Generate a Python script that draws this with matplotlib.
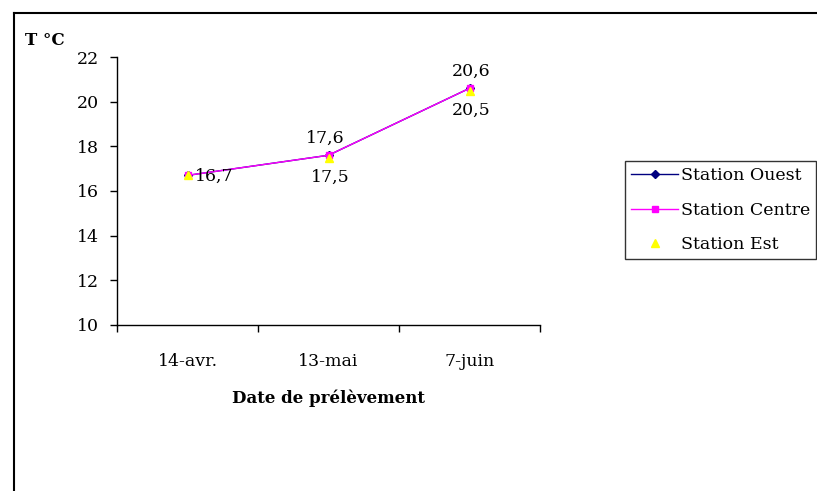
import matplotlib.pyplot as plt
from matplotlib.lines import Line2D
from matplotlib.ticker import FixedLocator

plt.rcParams['font.family'] = ['DejaVu Serif']

# dates de prélèvement et températures (°C) par station
dates = ['14-avr.', '13-mai', '7-juin']
t_ouest = [16.7, 17.6, 20.6]
t_centre = [16.7, 17.6, 20.6]
t_est = [16.7, 17.5, 20.5]

fs = 12.5

fig = plt.figure(figsize=(8.17, 4.91), dpi=100)
ax = fig.add_axes([0.1432, 0.3381, 0.5178, 0.5458])

x = [i + 0.5 for i in range(len(dates))]

ax.plot(x, t_ouest, color='#000080', marker='D', markersize=4, lw=1, label='Station Ouest')
ax.plot(x, t_centre, color='#FF00FF', marker='s', markersize=5, lw=1, label='Station Centre')
ax.plot(x, t_est, color='#FFFF00', marker='^', markersize=6, lw=0, label='Station Est')

# étiquettes de valeurs
ax.annotate(f"{t_centre[0]:.1f}".replace('.', ','), (x[0], t_centre[0]),
            xytext=(5, -1), textcoords='offset points', ha='left', va='center', fontsize=fs)
for i, dx in ((1, -2), (2, 1)):
    ax.annotate(f"{t_centre[i]:.1f}".replace('.', ','), (x[i], t_centre[i]),
                xytext=(dx, 6), textcoords='offset points', ha='center', va='bottom', fontsize=fs)
    ax.annotate(f"{t_est[i]:.1f}".replace('.', ','), (x[i], t_est[i]),
                xytext=(1, -8), textcoords='offset points', ha='center', va='top', fontsize=fs)

ax.set_xlim(0, 3)
ax.set_ylim(10, 22)
ax.set_yticks(range(10, 23, 2))
ax.xaxis.set_major_locator(FixedLocator([0, 1, 2, 3]))
ax.xaxis.set_minor_locator(FixedLocator(x))
ax.set_xticklabels([])
ax.set_xticklabels(dates, minor=True)
ax.tick_params(axis='x', which='major', length=5, direction='out', width=1)
ax.tick_params(axis='x', which='minor', length=0, pad=20, labelsize=fs)
ax.tick_params(axis='y', length=5, direction='out', width=1, labelsize=fs, pad=8)

for side in ('top', 'right'):
    ax.spines[side].set_visible(False)
for side in ('left', 'bottom'):
    ax.spines[side].set_linewidth(1)

ax.set_xlabel('Date de prélèvement', fontsize=12, fontweight='bold', labelpad=14)
fig.text(0.030, 0.918, 'T °C', fontsize=12, fontweight='bold', ha='left', va='center')

leg = fig.legend(loc='center left', bbox_to_anchor=(0.765, 0.572), fontsize=12.5,
                 frameon=True, fancybox=False, edgecolor='black', handlelength=2.7,
                 handletextpad=0.15, labelspacing=1.0, borderpad=0.35, borderaxespad=0)
leg.get_frame().set_linewidth(1)

# cadre extérieur du graphique
fig.add_artist(Line2D([0.0171, 1.0], [0.9735, 0.9735], color='black', lw=1.5,
                      transform=fig.transFigure))
fig.add_artist(Line2D([0.0171, 0.0171], [0.0, 0.9735], color='black', lw=1.5,
                      transform=fig.transFigure))

fig.savefig('out.png', dpi=100)
